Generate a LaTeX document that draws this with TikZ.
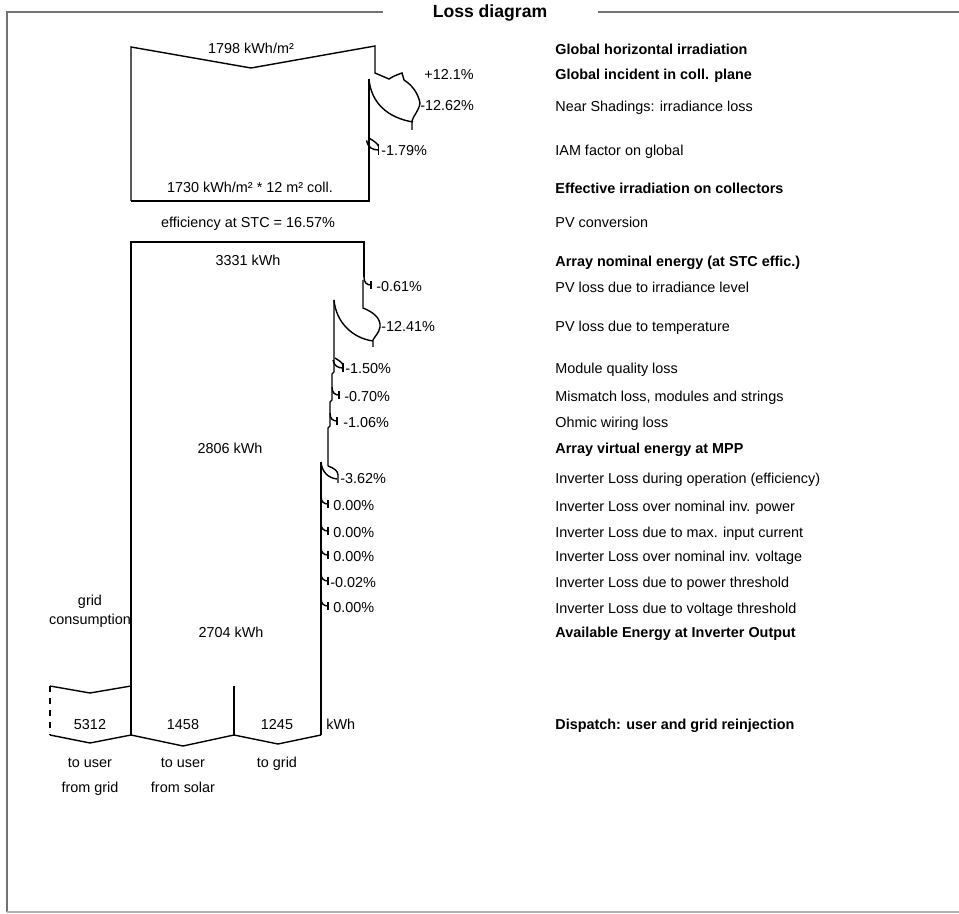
\documentclass[tikz,border=0pt]{standalone}
\usepackage{fontspec}
\setmainfont{Liberation Sans}
\usetikzlibrary{positioning}

\begin{document}
\begin{tikzpicture}[
  x=0.5pt, y=-0.5pt,
  font=\fontsize{7.2}{8.6}\selectfont,
  every node/.style={text height=1.5ex, text depth=.55ex},
  flow/.style={line width=0.7pt, line join=miter},
  frame/.style={draw=black!55, line width=1.1pt},
  lbl/.style={anchor=west, inner sep=0pt},
  hd/.style={anchor=west, inner sep=0pt, font=\fontsize{7.2}{8.6}\selectfont\bfseries},
  val/.style={inner sep=0pt},
  pct/.style={anchor=west, inner sep=0pt},
  hook/.pic={
    \draw[flow] (0,-9) .. controls (0,-3) and (3,-1) .. (7,-1);
    \draw[flow] (7,-5) -- (7,3);
  },
  widehook/.pic={
    \draw[flow] (0,-10) .. controls (3,-8) and (7,-6) .. (8,-3);
    \draw[flow] (8,-5) -- (8,4);
    \draw[flow] (-2,-8) .. controls (-1,-2) and (3,0) .. (8,0);
  }
]
\useasboundingbox (0,0) rectangle (959,914);

% frame
\node[font=\fontsize{8.8}{10}\selectfont\bfseries, inner sep=0pt] (title) at (490,12) {Loss diagram};
\draw[frame] (7,912) -- (7,12) -- (383,12);
\draw[frame] (598,12) -- (959,12);
\draw[draw=black!30, line width=1.1pt] (7,912) -- (959,912);

% irradiation block
\draw[flow] (131,201) -- (131,47) -- (251,68) -- (375,46) -- (375,73) -- (389,79)
  .. controls (394,76) .. (402,73) -- (404,80)
  .. controls (412,85) and (418,93) .. (420,103)
  .. controls (419,111) and (413,116) .. (412,121) -- (412,130);
\draw[flow] (369,79) .. controls (371,103) and (388,118) .. (413,122);
\draw[flow] (369,79) -- (369,201) -- (131,201);
\pic[scale=1.2] at (369,150) {widehook};

\node[val] (ghival) at (251,48) {1798 kWh/m²};
\node[pct] (gain) at (424,74) {+12.1\%};
\node[pct] (shadeval) at (420,105) {-12.62\%};
\node[pct] (iamval) at (381,150) {-1.79\%};
\node[val] (effval) at (250,187) {1730 kWh/m² * 12 m² coll.};
\node[val] (stc) at (248,222) {efficiency at STC = 16.57\%};

% array block
\draw[flow] (131,735) -- (131,242) -- (364,242) -- (364,277);
\pic at (364,286) {hook};
\draw[flow] (363,280) -- (363,308) .. controls (373,312) and (381,318) .. (380,327)
  .. controls (379,333) and (375,336) .. (373,340) -- (373,347);
\draw[flow] (334,300) .. controls (336,322) and (352,338) .. (373,341);
\draw[flow] (334,300) -- (334,372) -- (332,374) -- (332,400) -- (330,402) -- (330,426)
  -- (328,428) -- (328,466);
\pic at (335,368) {widehook};
\pic at (332,396) {hook};
\pic at (330,422) {hook};
\draw[flow] (328,466) .. controls (334,468) and (338,471) .. (338,475) -- (338,483);
\draw[flow] (321,462) .. controls (322,472) and (328,478) .. (337,479);
\draw[flow] (321,462) -- (321,735);
\pic at (321,505) {hook};
\pic at (321,532) {hook};
\pic at (321,556) {hook};
\pic at (321,582) {hook};
\pic at (321,607) {hook};

\node[val] (nomval) at (248,260) {3331 kWh};
\node[pct] (irrval) at (376,286) {-0.61\%};
\node[pct] (tempval) at (381,326) {-12.41\%};
\node[pct] (qualval) at (345,368) {-1.50\%};
\node[pct] (mismval) at (344,396) {-0.70\%};
\node[pct] (ohmval) at (343,422) {-1.06\%};
\node[val] (mppval) at (230,448) {2806 kWh};
\node[pct] (effinv) at (340,478) {-3.62\%};
\node[pct] (pnomval) at (333,505) {0.00\%};
\node[pct] (imaxval) at (333,532) {0.00\%};
\node[pct] (vnomval) at (333,556) {0.00\%};
\node[pct] (pthrval) at (330,582) {-0.02\%};
\node[pct] (vthrval) at (333,607) {0.00\%};
\node[val] (outval) at (231,632) {2704 kWh};
\node[val] (grid) at (90,600) {grid};
\node[val, below=9.5pt of grid.center, anchor=center] (cons) {consumption};

% dispatch
\draw[flow] (131,686) -- (90,693) -- (50,686);
\draw[flow, dashed] (50,686) -- (50,735);
\draw[flow] (50,735) -- (90,743) -- (131,735) -- (183,746) -- (234,735) -- (278,744) -- (321,735);
\draw[flow] (234,686) -- (234,735);

\node[val] (fromgrid) at (90,724) {5312};
\node[val] (fromsolar) at (183,724) {1458};
\node[val] (togrid) at (277,724) {1245};
\node[pct] (unit) at (326,724) {kWh};
\node[val] (ug1) at (90,762) {to user};
\node[val, below=12.5pt of ug1.center, anchor=center] (ug2) {from grid};
\node[val] (us1) at (183,762) {to user};
\node[val, below=12.5pt of us1.center, anchor=center] (us2) {from solar};
\node[val] (tg) at (277,762) {to grid};

% row labels
\node[hd] (ghi) at (555,49) {Global horizontal irradiation};
\node[hd] (gip) at (555,74) {Global incident in coll. plane};
\node[lbl] (shade) at (555,106) {Near Shadings: irradiance loss};
\node[lbl] (iam) at (555,150) {IAM factor on global};
\node[hd] (eff) at (555,188) {Effective irradiation on collectors};
\node[lbl] (conv) at (555,222) {PV conversion};
\node[hd] (nom) at (555,261) {Array nominal energy (at STC effic.)};
\node[lbl] (irr) at (555,287) {PV loss due to irradiance level};
\node[lbl] (temp) at (555,326) {PV loss due to temperature};
\node[lbl] (qual) at (555,368) {Module quality loss};
\node[lbl] (mism) at (555,396) {Mismatch loss, modules and strings};
\node[lbl] (ohm) at (555,422) {Ohmic wiring loss};
\node[hd] (mpp) at (555,448) {Array virtual energy at MPP};
\node[lbl] (invop) at (555,478) {Inverter Loss during operation (efficiency)};
\node[lbl] (pnom) at (555,506) {Inverter Loss over nominal inv. power};
\node[lbl] (imax) at (555,532) {Inverter Loss due to max. input current};
\node[lbl] (vnom) at (555,556) {Inverter Loss over nominal inv. voltage};
\node[lbl] (pthr) at (555,582) {Inverter Loss due to power threshold};
\node[lbl] (vthr) at (555,608) {Inverter Loss due to voltage threshold};
\node[hd] (avail) at (555,632) {Available Energy at Inverter Output};
\node[hd] (disp) at (555,724) {Dispatch: user and grid reinjection};

\end{tikzpicture}
\end{document}
